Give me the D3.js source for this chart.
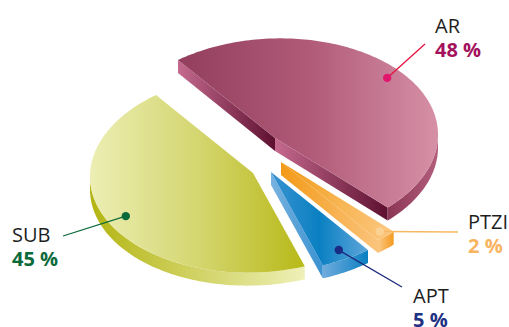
<!DOCTYPE html>
<html>
<head>
<meta charset="utf-8">
<script src="https://cdn.jsdelivr.net/npm/d3@7"></script>
<style>
  html, body { margin: 0; padding: 0; background: #fff; }
  svg text { font-family: "Open Sans", "Noto Sans", sans-serif; }
</style>
</head>
<body>
<div id="chart"></div>
<script>
// data
const categories = ["AR", "PTZI", "APT", "SUB"];
const shares = [48, 2, 5, 45];
const shareLabels = ["48 %", "2 %", "5 %", "45 %"];

// layout
const width = 509, height = 327;
const center = [266, 156];
const axisU = [97, 78], axisV = [-131, 62];   // projected unit circle
const depth = 13;
const explode = { AR: [9, -18], PTZI: [15, 6], APT: [5, 16], SUB: [-13, 17] };
const labelPos = {
    AR:   { t: 0.9,  end: [425, 44],  text: [435, 33] },
    PTZI: { t: 0.94, end: [458, 232], text: [468, 229] },
    APT:  { t: 0.9,  end: [402, 287], text: [413, 303] },
    SUB:  { t: 0.88, end: [63, 236],  text: [12, 242] }
};
const palette = {
    AR:   { top: ["#923e5c", "#b05a78", "#d690a6"], side: ["#c46a8e", "#5e1030"], rim: ["#8c3656", "#b25e7c"],
            line: "#e4123e", dot: "#e2166c", value: "#a3125c" },
    PTZI: { top: ["#f2960f", "#f7b450", "#fcc884"], side: ["#f39a18", "#fbc47c"], rim: ["#fcc884", "#f39a1e"],
            line: "#f8b862", dot: "#fcd294", value: "#f9b462" },
    APT:  { top: ["#3a92d0", "#0a80c2", "#5ea6da"], side: ["#78b2e0", "#3a92d0"], rim: ["#70acdd", "#0a7fc2"],
            line: "#1b2a7c", dot: "#1b2b84", value: "#1f3283" },
    SUB:  { top: ["#eceeb4", "#d4d670", "#b8b918"], side: ["#b4b512", "#eef0b8"], rim: ["#b4b512", "#eef0b8"],
            line: "#0b6a3a", dot: "#0b6a3a", value: "#0b6a3a" }
};

const svg = d3.select("#chart")
    .append("svg")
    .attr("width", width)
    .attr("height", height);

const defs = svg.append("defs");

const pie = d3.pie().sort(null).startAngle(Math.PI).endAngle(3 * Math.PI);
const arcs = pie(shares);

const radius = d3.scaleLinear().domain([0, 1]).range([0, 1]);

function proj(apex, phi, t) {
    const r = radius(t);
    return [
        apex[0] + r * (axisU[0] * Math.cos(phi) + axisV[0] * Math.sin(phi)),
        apex[1] + r * (axisU[1] * Math.cos(phi) + axisV[1] * Math.sin(phi))
    ];
}
const down = p => [p[0], p[1] + depth];
const closed = d3.line().curve(d3.curveLinearClosed);

function arcPoints(apex, a0, a1) {
    const n = Math.max(4, Math.ceil((a1 - a0) / 0.02));
    return d3.range(n + 1).map(i => proj(apex, a0 + (a1 - a0) * i / n, 1));
}

let gradId = 0;
function gradient(pts, colors) {
    const id = "g" + (gradId++);
    const xs = pts.map(p => p[0]);
    const g = defs.append("linearGradient")
        .attr("id", id)
        .attr("gradientUnits", "userSpaceOnUse")
        .attr("x1", d3.min(xs)).attr("x2", d3.max(xs))
        .attr("y1", 0).attr("y2", 0);
    colors.forEach((c, i) => {
        g.append("stop")
            .attr("offset", i / (colors.length - 1))
            .attr("stop-color", c);
    });
    return `url(#${id})`;
}

// front (visible) part of the rim: from the rightmost to the leftmost point, through the bottom
const frontStart = Math.atan2(axisV[0], axisU[0]);
function frontRange(a0, a1) {
    for (let k = -2; k <= 2; k++) {
        const f0 = frontStart + 2 * Math.PI * k, f1 = f0 + Math.PI;
        const s = Math.max(a0, f0), e = Math.min(a1, f1);
        if (e > s) return [s, e];
    }
    return null;
}

const cross = (a, b) => a[0] * b[1] - a[1] * b[0];

const slices = svg.append("g").attr("class", "slices");

arcs.forEach((d, i) => {
    const key = categories[i];
    const col = palette[key];
    const apex = [center[0] + explode[key][0], center[1] + explode[key][1]];
    const g = slices.append("g").attr("class", "slice");
    const mid = (d.startAngle + d.endAngle) / 2;
    const inner = proj(apex, mid, 0.5);

    // cut faces
    [d.startAngle, d.endAngle].forEach(a => {
        const q = proj(apex, a, 1);
        const e = [q[0] - apex[0], q[1] - apex[1]];
        const m = [inner[0] - apex[0], inner[1] - apex[1]];
        if (Math.sign(cross(e, m)) !== Math.sign(cross(e, [0, 1]))) {
            const pts = [apex, q, down(q), down(apex)];
            g.append("path")
                .attr("d", closed(pts))
                .attr("fill", gradient(pts, col.side));
        }
    });

    // rim
    const fr = frontRange(d.startAngle, d.endAngle);
    if (fr) {
        const top = arcPoints(apex, fr[0], fr[1]);
        const pts = top.concat(top.slice().reverse().map(down));
        g.append("path")
            .attr("d", closed(pts))
            .attr("fill", gradient(pts, col.rim));
    }

    // top face
    const topPts = [apex].concat(arcPoints(apex, d.startAngle, d.endAngle));
    g.append("path")
        .attr("d", closed(topPts))
        .attr("fill", gradient(topPts, col.top));
});

// labels
const labels = svg.append("g").attr("class", "labels");
arcs.forEach((d, i) => {
    const key = categories[i];
    const col = palette[key];
    const lp = labelPos[key];
    const apex = [center[0] + explode[key][0], center[1] + explode[key][1]];
    const dot = proj(apex, (d.startAngle + d.endAngle) / 2, lp.t);

    labels.append("line")
        .attr("x1", dot[0]).attr("y1", dot[1])
        .attr("x2", lp.end[0]).attr("y2", lp.end[1])
        .attr("stroke", col.line)
        .attr("stroke-width", 1.3);

    labels.append("circle")
        .attr("cx", dot[0]).attr("cy", dot[1])
        .attr("r", 4.2)
        .attr("fill", col.dot);

    labels.append("text")
        .attr("x", lp.text[0]).attr("y", lp.text[1])
        .attr("font-size", 20)
        .attr("fill", "#1e1e1e")
        .text(key);

    labels.append("text")
        .attr("x", lp.text[0]).attr("y", lp.text[1] + 24)
        .attr("font-size", 20)
        .attr("font-weight", "bold")
        .attr("fill", col.value)
        .text(shareLabels[i]);
});
</script>
</body>
</html>
